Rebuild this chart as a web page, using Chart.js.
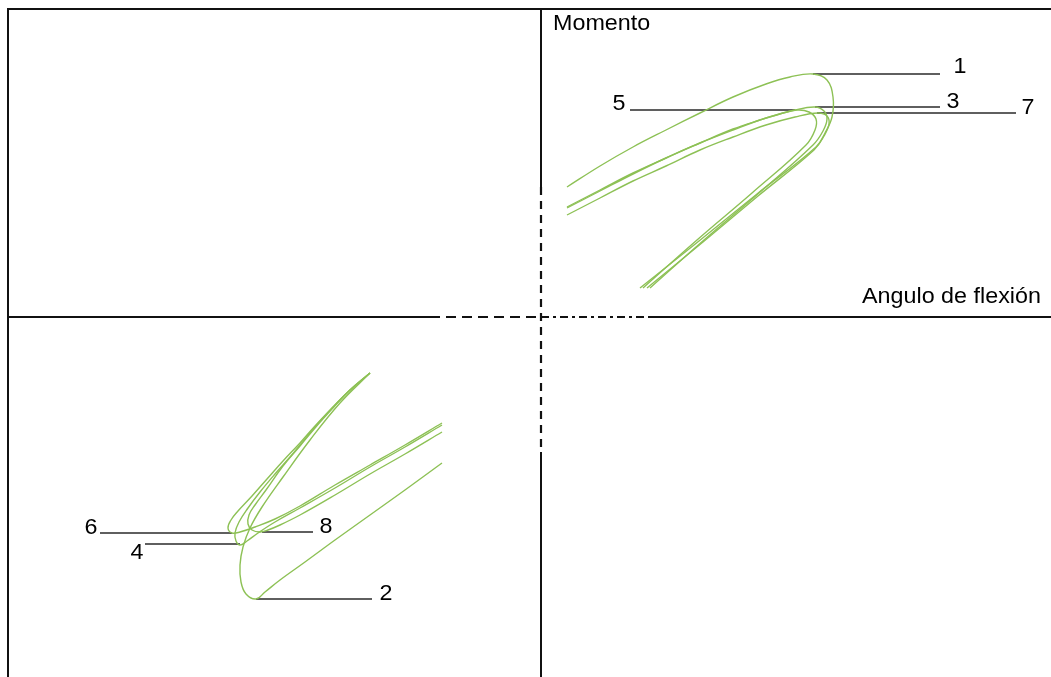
<!DOCTYPE html>
<html>
<head>
<meta charset="utf-8">
<script src="https://cdn.jsdelivr.net/npm/chart.js@4/dist/chart.umd.min.js"></script>
<style>
  html, body { margin: 0; padding: 0; background: #fff; }
  #wrap { width: 1051px; height: 677px; position: relative; }
</style>
</head>
<body>
<div id="wrap"><canvas id="c"></canvas></div>
<script>
// Moment vs. flexion-angle hysteresis loops (angle, moment), arbitrary units.
// Loaded-side loops (upper right quadrant)
const loop1 = [[2.6,13.0],[5.9,15.1],[9.2,17.0],[12.5,18.7],[15.9,20.4],[19.2,22.0],[22.5,23.3],[24.9,24.0],[27.2,24.3],[28.6,23.7],[29.2,22.0],[29.1,20.0],[28.4,18.4],[27.5,17.0],[21.6,12.3],[15.8,7.6],[9.9,2.9]];
const loop3 = [[2.6,11.0],[5.9,12.7],[9.2,14.4],[12.5,15.9],[15.9,17.4],[19.2,18.7],[22.5,19.9],[25.4,20.7],[27.4,21.0],[28.3,20.6],[28.6,19.8],[28.2,18.6],[27.2,17.2],[21.8,12.4],[16.3,7.7],[10.9,2.9]];
const loop5 = [[2.6,10.9],[5.9,12.6],[9.2,14.3],[12.5,15.9],[15.9,17.4],[19.2,18.8],[21.9,19.7],[23.9,20.3],[25.6,20.7],[26.8,20.5],[27.5,19.8],[27.4,18.7],[26.5,17.2],[21.1,12.4],[15.6,7.7],[10.2,2.9]];
const loop7 = [[2.6,10.2],[5.9,11.9],[9.2,13.6],[12.5,15.1],[15.9,16.7],[19.2,18.0],[22.5,19.2],[25.4,20.0],[27.7,20.4],[28.6,20.1],[28.8,19.3],[28.3,18.1],[27.3,16.7],[21.7,12.1],[16.2,7.5],[10.6,2.9]];
// Reversed-side loops (lower left quadrant)
const loop2 = [[-9.9,-14.6],[-13.6,-17.3],[-17.1,-19.8],[-20.6,-22.3],[-23.6,-24.5],[-26.1,-26.3],[-27.6,-27.5],[-28.5,-28.2],[-29.5,-27.7],[-30.0,-26.5],[-30.1,-24.8],[-29.8,-23.0],[-29.1,-21.1],[-27.9,-19.0],[-25.8,-16.0],[-23.1,-12.3],[-20.1,-8.6],[-17.1,-5.6]];
const loop4 = [[-9.9,-10.8],[-13.6,-13.0],[-17.1,-15.0],[-20.6,-17.1],[-24.1,-19.1],[-26.6,-20.5],[-28.3,-21.6],[-29.4,-22.4],[-30.1,-22.8],[-30.5,-22.4],[-30.6,-21.6],[-30.2,-20.5],[-29.3,-19.1],[-28.1,-17.5],[-26.6,-15.7],[-25.1,-14.0],[-24.1,-12.8],[-22.6,-11.0],[-20.8,-9.0],[-19.1,-7.3],[-17.1,-5.6]];
const loop6 = [[-9.9,-10.6],[-13.6,-12.8],[-17.1,-14.8],[-20.6,-16.8],[-24.1,-18.9],[-26.6,-20.2],[-28.6,-21.0],[-30.1,-21.5],[-30.9,-21.6],[-31.3,-21.1],[-31.0,-20.3],[-30.3,-19.4],[-28.9,-17.9],[-27.4,-16.2],[-25.8,-14.4],[-24.1,-12.6],[-22.6,-10.9],[-20.8,-9.0],[-19.1,-7.3],[-17.1,-5.6]];
const loop8 = [[-9.9,-11.5],[-13.6,-13.7],[-17.1,-15.7],[-20.6,-17.8],[-24.1,-19.8],[-26.1,-20.8],[-27.3,-21.3],[-28.1,-21.5],[-28.9,-21.3],[-29.3,-20.7],[-29.2,-19.8],[-28.6,-18.8],[-27.5,-17.3],[-25.8,-14.9],[-24.1,-12.9],[-22.6,-11.1],[-20.8,-9.1],[-19.1,-7.3],[-17.1,-5.6]];

// Loop numbers, the start of each leader line (at the loop's extreme) and its far end (angle)
const loopNames = ['1','2','3','4','5','6','7','8'];
const leaderStart = [[27.2,24.3],[-28.5,-28.2],[27.4,21.0],[-30.1,-22.7],[25.4,20.7],[-30.9,-21.6],[27.6,20.4],[-27.9,-21.5]];
const leaderEnd   = [39.9, -16.9, 39.9, -39.6, 8.9, -44.1, 47.5, -22.8];
const numberAt    = [[41.9,25.0],[-15.5,-27.7],[41.2,21.5],[-40.4,-23.6],[7.8,21.3],[-45.0,-21.1],[48.7,20.9],[-21.5,-21.0]];

const axisTitles = ['Momento', 'Angulo de flexión'];

const GREEN = '#8dc155';
const INK = '#111';
const pts = a => a.map(p => ({x: p[0], y: p[1]}));

const loops = [loop1, loop2, loop3, loop4, loop5, loop6, loop7, loop8];
const datasets = [];

// Frame (top and left borders)
datasets.push({ data: [{x:-53.3,y:-37},{x:-53.3,y:30.8},{x:52,y:30.8}], borderColor:INK, borderWidth:2 });
// Moment axis: solid, dashed through the middle, solid
datasets.push({ data: [{x:0,y:30.8},{x:0,y:13.0}], borderColor:INK, borderWidth:2 });
datasets.push({ data: [{x:0,y:13.0},{x:0,y:-13.5}], borderColor:INK, borderWidth:2.2, borderDash:[8,6] });
datasets.push({ data: [{x:0,y:-13.5},{x:0,y:-37}], borderColor:INK, borderWidth:2 });
// Angle axis: solid, dashed, dash-dot, solid
datasets.push({ data: [{x:-53.3,y:0},{x:-11.1,y:0}], borderColor:INK, borderWidth:2 });
datasets.push({ data: [{x:-11.1,y:0},{x:0,y:0}], borderColor:INK, borderWidth:2, borderDash:[10,6] });
datasets.push({ data: [{x:0,y:0},{x:10.9,y:0}], borderColor:INK, borderWidth:2, borderDash:[8,4,3,4] });
datasets.push({ data: [{x:10.9,y:0},{x:52,y:0}], borderColor:INK, borderWidth:2 });

// Hysteresis loops
loops.forEach(l => datasets.push({ data: pts(l), borderColor: GREEN, borderWidth: 1.4, tension: 0.4 }));

// Leader lines to the loop numbers
leaderStart.forEach((s, i) => datasets.push({
  data: [{x:s[0], y:s[1]}, {x:leaderEnd[i], y:s[1]}], borderColor:'#2a2a2a', borderWidth:1.5
}));

datasets.forEach(d => { d.showLine = true; d.pointRadius = 0; d.fill = false; if (d.tension === undefined) d.tension = 0; });

// Text slightly widened horizontally, as in the printed figure
function wideText(ctx, txt, px, py, align) {
  const sx = 1.06;
  ctx.save();
  ctx.translate(px, py);
  ctx.scale(sx, 1);
  ctx.textAlign = align;
  ctx.fillText(txt, 0, 0);
  ctx.restore();
}

const textPlugin = {
  id: 'loopText',
  afterDatasetsDraw(chart) {
    const {ctx, scales:{x, y}} = chart;
    ctx.save();
    ctx.fillStyle = '#000';
    ctx.textBaseline = 'middle';
    ctx.font = '22px "Liberation Sans", Arial, sans-serif';
    loopNames.forEach((n, i) => {
      wideText(ctx, n, x.getPixelForValue(numberAt[i][0]), y.getPixelForValue(numberAt[i][1]), 'center');
    });
    wideText(ctx, axisTitles[0], x.getPixelForValue(1.2), y.getPixelForValue(29.3), 'left');
    wideText(ctx, axisTitles[1], x.getPixelForValue(32.1), y.getPixelForValue(2.0), 'left');
    ctx.restore();
  }
};

new Chart(document.getElementById('c'), {
  type: 'scatter',
  data: { datasets },
  options: {
    responsive: true,
    maintainAspectRatio: false,
    devicePixelRatio: 1,
    animation: false,
    events: [],
    layout: { padding: 0 },
    plugins: { legend: { display: false }, tooltip: { enabled: false } },
    scales: {
      x: { type: 'linear', min: -54.1, max: 51.0, display: false },
      y: { type: 'linear', min: -36.0, max: 31.7, display: false }
    }
  },
  plugins: [textPlugin]
});
</script>
</body>
</html>
